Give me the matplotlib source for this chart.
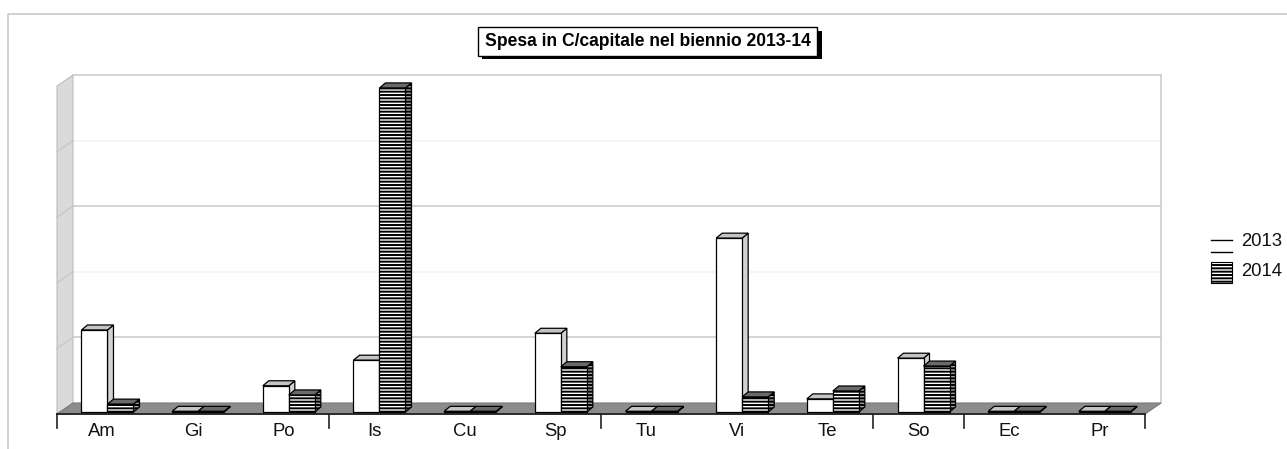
import matplotlib
matplotlib.use("Agg")
import matplotlib.pyplot as plt
from matplotlib.patches import Polygon, Rectangle

plt.rcParams['font.family'] = ['Liberation Sans', 'DejaVu Sans']
plt.rcParams['hatch.linewidth'] = 1.4

# --- data -------------------------------------------------------------
categories = ["Am", "Gi", "Po", "Is", "Cu", "Sp", "Tu", "Vi", "Te", "So", "Ec", "Pr"]
spesa_2013 = [125, 1, 40, 79, 1, 120, 1, 265, 20, 82, 1, 1]
spesa_2014 = [12, 1, 26, 494, 1, 69, 1, 23, 32, 70, 1, 1]
series_labels = ["2013", "2014"]
title = "Spesa in C/capitale nel biennio 2013-14"
tick_bounds = [0, 3, 6, 9, 10, 12]
grid_step = 100

# --- figure / scales ----------------------------------------------------
W, H = 1287, 449
fig = plt.figure(figsize=(W / 100, H / 100), dpi=100)
ax = fig.add_axes([0, 0, 1, 1])
PX_X0, PX_CAT = 57.0, 90.67      # pixel of category 0, pixels per category
PX_Y0, PX_UNIT = 412.0, 0.656    # pixel of value 0, pixels per value unit
ax.set_xlim(-PX_X0 / PX_CAT, (W - PX_X0) / PX_CAT)
ax.set_ylim((PX_Y0 - H) / PX_UNIT, PX_Y0 / PX_UNIT)
ax.axis('off')

def vy(py):
    return (PX_Y0 - py) / PX_UNIT

n = len(categories)
floor_front = vy(414)
floor_back = vy(403)
dyf = floor_back - floor_front
dxf = 16 / PX_CAT
top_back = floor_back + 5 * grid_step

# bar geometry
bar_w = 26 / PX_CAT
bar_off = 0.27
ddx, ddy = 6 / PX_CAT, 5 / PX_UNIT

# --- walls and floor ---------------------------------------------------
ax.add_patch(Polygon([(dxf, floor_back), (n + dxf, floor_back),
                      (n + dxf, top_back), (dxf, top_back)],
                     closed=True, facecolor='white', edgecolor='none', zorder=1))
for k in range(1, 6):
    g = floor_back + k * grid_step
    col = '#cdcdcd' if k in (1, 3, 5) else '#f3f3f3'
    ax.plot([dxf, n + dxf], [g, g], color=col, lw=1.2, zorder=2)
ax.plot([n + dxf, n + dxf], [floor_back, top_back], color='#cdcdcd', lw=1.2, zorder=2)

# left wall
ax.add_patch(Polygon([(0, floor_front), (dxf, floor_back), (dxf, top_back),
                      (0, top_back - dyf)], closed=True,
                     facecolor='#dadada', edgecolor='#bdbdbd', lw=0.8, zorder=3))
for k in range(1, 5):
    g = floor_back + k * grid_step
    ax.plot([0, dxf], [g - dyf, g], color='#c6c6c6', lw=0.9, zorder=3)

# floor
ax.add_patch(Polygon([(0, floor_front), (n, floor_front), (n + dxf, floor_back),
                      (dxf, floor_back)], closed=True,
                     facecolor='#8c8c8c', edgecolor='#7a7a7a', lw=0.8, zorder=4))
ax.plot([0, n], [floor_front, floor_front], color='#222222', lw=1.3, zorder=6)

# --- bars --------------------------------------------------------------
def draw_bar(left, h, face, side, top, hatch, z):
    right = left + bar_w
    ax.add_patch(Polygon([(right, 0), (right + ddx, ddy), (right + ddx, h + ddy), (right, h)],
                         closed=True, facecolor=side, edgecolor='black', lw=0.9,
                         hatch=hatch, zorder=z))
    ax.add_patch(Polygon([(left, h), (right, h), (right + ddx, h + ddy), (left + ddx, h + ddy)],
                         closed=True, facecolor=top, edgecolor='black', lw=0.9, zorder=z))
    ax.bar(left, h, width=bar_w, bottom=0, align='edge', facecolor=face,
           edgecolor='black', lw=0.9, hatch=hatch, zorder=z)

z = 10
for i in range(n):
    left13 = i + bar_off
    draw_bar(left13, spesa_2013[i], 'white', '#d2d2d2', '#c4c4c4', None, z)
    z += 1
    draw_bar(left13 + bar_w, spesa_2014[i], 'white', '#a0a0a0', '#6a6a6a', '-----', z)
    z += 1

# --- category axis -----------------------------------------------------
for b in tick_bounds:
    ax.plot([b, b], [floor_front, vy(428)], color='#222222', lw=1.2, zorder=6)
for i, name in enumerate(categories):
    ax.text(i + 0.5, vy(431), name, ha='center', va='center', fontsize=13.3,
            color='#111111', zorder=7)

# --- framing, title and legend ----------------------------------------
def fx(px):
    return px / W

def fy(py):
    return 1 - py / H

fig.add_artist(plt.Line2D([fx(8), fx(8), fx(W)], [fy(H), fy(14), fy(14)],
                          color='#c8c8c8', lw=1.2))

fig.add_artist(Rectangle((fx(482), fy(59)), fx(822) - fx(482), fy(31) - fy(59),
                         facecolor='black', edgecolor='black', lw=0))
fig.add_artist(Rectangle((fx(478), fy(56)), fx(817) - fx(478), fy(27) - fy(56),
                         facecolor='white', edgecolor='black', lw=1.0))
fig.text(fx(647.5), fy(42), title, ha='center', va='center', fontsize=12.65,
         fontweight='bold', color='black')

# legend
fig.add_artist(Rectangle((fx(1211), fy(252)), fx(1232) - fx(1211), fy(240) - fy(252),
                         facecolor='white', edgecolor='none'))
fig.add_artist(plt.Line2D([fx(1211), fx(1232)], [fy(240), fy(240)], color='black', lw=1.0))
fig.add_artist(plt.Line2D([fx(1211), fx(1232)], [fy(252), fy(252)], color='black', lw=1.0))
fig.add_artist(Rectangle((fx(1211), fy(283)), fx(1232) - fx(1211), fy(262) - fy(283),
                         facecolor='white', edgecolor='black', lw=0.8, hatch='-----'))
fig.text(fx(1241), fy(241), series_labels[0], ha='left', va='center', fontsize=13.3,
         color='#111111')
fig.text(fx(1241), fy(272), series_labels[1], ha='left', va='center', fontsize=13.3,
         color='#111111')

fig.savefig("out.png", dpi=100)
